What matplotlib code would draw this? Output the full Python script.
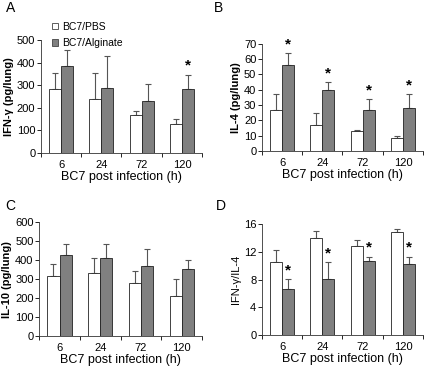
import numpy as np
import matplotlib
matplotlib.use('Agg')
import matplotlib.pyplot as plt
from matplotlib.patches import Patch

plt.rcParams['font.family'] = ['Liberation Sans', 'DejaVu Sans']

hours = ['6', '24', '72', '120']

# A: IFN-gamma
ifn_pbs = [285, 240, 170, 130]
ifn_pbs_err = [70, 112, 18, 22]
ifn_alg = [383, 287, 228, 283]
ifn_alg_err = [72, 141, 75, 64]
ifn_star = [False, False, False, True]

# B: IL-4
il4_pbs = [27, 17, 13, 8.5]
il4_pbs_err = [10, 8, 0.7, 1.5]
il4_alg = [56, 40, 26.5, 28]
il4_alg_err = [8, 5, 7.5, 9]
il4_star = [True, True, True, True]

# C: IL-10
il10_pbs = [318, 333, 278, 210]
il10_pbs_err = [60, 77, 67, 90]
il10_alg = [428, 410, 370, 353]
il10_alg_err = [55, 73, 87, 50]
il10_star = [False, False, False, False]

# D: IFN-gamma / IL-4
ratio_pbs = [10.5, 14.0, 12.9, 14.9]
ratio_pbs_err = [1.7, 1.0, 0.8, 0.4]
ratio_alg = [6.7, 8.1, 10.6, 10.2]
ratio_alg_err = [1.4, 2.4, 0.7, 1.1]
ratio_star = [True, True, True, True]

W, H = 430, 369
fig = plt.figure(figsize=(W / 100, H / 100), dpi=100)


def panel(rect, pbs, pbs_err, alg, alg_err, stars, ymax, ystep, ylabel,
          bold=True):
    ax = fig.add_axes(rect)
    x = np.arange(len(hours))
    w = 0.3
    ax.bar(x - w / 2, pbs, w, color='white', edgecolor='#222222', lw=0.6,
           zorder=2)
    ax.bar(x + w / 2, alg, w, color='#808080', edgecolor='#222222', lw=0.6,
           zorder=2)
    ax.errorbar(x - w / 2, pbs, yerr=[np.zeros(4), pbs_err], fmt='none',
                ecolor='#555555', elinewidth=0.8, capsize=2.5, capthick=0.8,
                zorder=1)
    ax.errorbar(x + w / 2, alg, yerr=[np.zeros(4), alg_err], fmt='none',
                ecolor='#555555', elinewidth=0.8, capsize=2.5, capthick=0.8,
                zorder=1)
    for i, s in enumerate(stars):
        if s:
            ax.text(x[i] + w / 2, alg[i] + alg_err[i] + ymax * 0.015, '*',
                    ha='center', va='bottom', fontsize=11, fontweight='bold')
    ax.set_xlim(-0.5, len(hours) - 0.5)
    ax.set_ylim(0, ymax)
    ax.set_yticks(np.arange(0, ymax + ystep / 2, ystep))
    # category boundaries get the tick marks, labels sit in between
    ax.set_xticks(np.arange(-0.5, len(hours)), minor=False)
    ax.set_xticklabels([])
    ax.set_xticks(x, minor=True)
    ax.set_xticklabels(hours, minor=True)
    ax.tick_params(axis='x', which='minor', length=0, labelsize=8, pad=5)
    ax.tick_params(axis='x', which='major', length=3, width=0.6)
    ax.tick_params(axis='y', length=3, width=0.6, labelsize=8, pad=1)
    for sp in ['top', 'right']:
        ax.spines[sp].set_visible(False)
    for sp in ['left', 'bottom']:
        ax.spines[sp].set_linewidth(0.6)
        ax.spines[sp].set_color('#333333')
    ax.set_ylabel(ylabel, fontsize=8, fontweight='bold' if bold else 'normal',
                  labelpad=2)
    ax.set_xlabel('BC7 post infection (h)', fontsize=9, labelpad=0.8)
    return ax


axA = panel([0.095, 0.585, 0.375, 0.307], ifn_pbs, ifn_pbs_err, ifn_alg,
            ifn_alg_err, ifn_star, 500, 100, 'IFN-γ (pg/lung)')
axB = panel([0.609, 0.591, 0.375, 0.290], il4_pbs, il4_pbs_err, il4_alg,
            il4_alg_err, il4_star, 70, 10, 'IL-4 (pg/lung)')
axC = panel([0.091, 0.089, 0.379, 0.309], il10_pbs, il10_pbs_err, il10_alg,
            il10_alg_err, il10_star, 600, 100, 'IL-10 (pg/lung)')
axD = panel([0.609, 0.092, 0.375, 0.301], ratio_pbs, ratio_pbs_err,
            ratio_alg, ratio_alg_err, ratio_star, 16, 4, 'IFN-γ/IL-4',
            bold=False)

# legend above panel A
handles = [Patch(facecolor='white', edgecolor='#444444', lw=0.6,
                 label='BC7/PBS'),
           Patch(facecolor='#808080', edgecolor='#444444', lw=0.6,
                 label='BC7/Alginate')]
fig.legend(handles=handles, loc='upper left',
           bbox_to_anchor=(0.108, 0.955), frameon=False, fontsize=7.5,
           handlelength=0.6, handleheight=0.6, handletextpad=0.4,
           labelspacing=0.6, borderpad=0)

for lbl, (fx, fy) in zip('ABCD', [(6, 12), (214, 12), (5, 210), (216, 210)]):
    fig.text(fx / W, 1 - fy / H, lbl, fontsize=10, ha='left', va='baseline')

fig.savefig('out.png', dpi=100)
